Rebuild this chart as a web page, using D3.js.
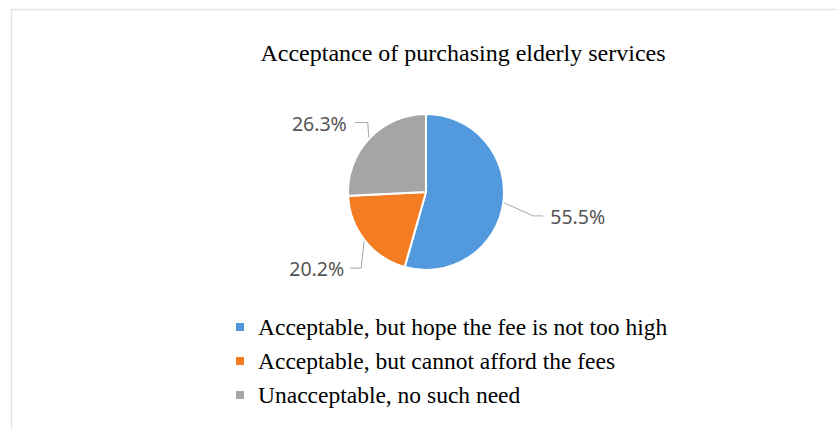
<html>
<head>
<script src="https://d3js.org/d3.v7.min.js"></script>
<style>
    body { margin: 0; background: #fff; }
    .pct { font-family: "Noto Sans", sans-serif; font-size: 19.5px; fill: #555; }
    .serif { font-family: "Liberation Serif", "Times New Roman", serif; fill: #000; }
</style>
</head>
<body>
<div id="chart"></div>
<script>
// data
const categories = [
    "Acceptable, but hope the fee is not too high",
    "Acceptable, but cannot afford the fees",
    "Unacceptable, no such need"
];
const values = [55.5, 20.2, 26.3];
const labels = ["55.5%", "20.2%", "26.3%"];
const colors = ["#5299de", "#f47c22", "#a5a5a5"];

const width = 836, height = 429;
const svg = d3.select('#chart').append('svg')
    .attr('width', width)
    .attr('height', height);

// frame (left + top edges only)
svg.append('path')
    .attr('d', `M11.5,${height} L11.5,9.5 L${width},9.5`)
    .attr('fill', 'none')
    .attr('stroke', '#e2e2e2')
    .attr('stroke-width', 1.5);

svg.append('text')
    .attr('class', 'serif')
    .attr('x', 463)
    .attr('y', 61)
    .attr('text-anchor', 'middle')
    .style('font-size', '24px')
    .text('Acceptance of purchasing elderly services');

const cx = 426, cy = 192, r = 78;
const pie = d3.pie().sort(null).value(d => d);
const arcs = pie(values);
const arc = d3.arc().innerRadius(0).outerRadius(r);

const g = svg.append('g').attr('transform', `translate(${cx},${cy})`);

g.selectAll('path.slice')
    .data(arcs)
    .enter()
    .append('path')
    .attr('class', 'slice')
    .attr('d', arc)
    .attr('fill', (d, i) => colors[i])
    .attr('stroke', '#fff')
    .attr('stroke-width', 2);

// leader line layout per slice: elbow offset, horizontal run
const leaders = [
    { dx: 29, dy: 13, run: 10, gap: 7 },
    { dx: -3, dy: 27, run: -11, gap: 6 },
    { dx: -1, dy: -15, run: -13, gap: 8 }
];

const edgeArc = d3.arc().innerRadius(r + 1).outerRadius(r + 1);
arcs.forEach((d, i) => {
    const [sx, sy] = edgeArc.centroid(d);
    const L = leaders[i];
    const ex = sx + L.dx, ey = sy + L.dy;
    const hx = ex + L.run;
    g.append('polyline')
        .attr('points', `${sx},${sy} ${ex},${ey} ${hx},${ey}`)
        .attr('fill', 'none')
        .attr('stroke', '#a6a6a6')
        .attr('stroke-width', 1);
    g.append('text')
        .attr('class', 'pct')
        .attr('x', hx + (L.run > 0 ? L.gap : -L.gap))
        .attr('y', ey + 8)
        .attr('text-anchor', L.run > 0 ? 'start' : 'end')
        .text(labels[i]);
});

// legend
const legend = svg.append('g').attr('transform', 'translate(236,327)');
categories.forEach((c, i) => {
    const row = legend.append('g').attr('transform', `translate(0,${i * 34})`);
    row.append('rect')
        .attr('x', 0)
        .attr('y', -4)
        .attr('width', 8)
        .attr('height', 8)
        .attr('fill', colors[i]);
    row.append('text')
        .attr('class', 'serif')
        .attr('x', 22)
        .attr('y', 8)
        .style('font-size', '23.5px')
        .text(c);
});
</script>
</body>
</html>
